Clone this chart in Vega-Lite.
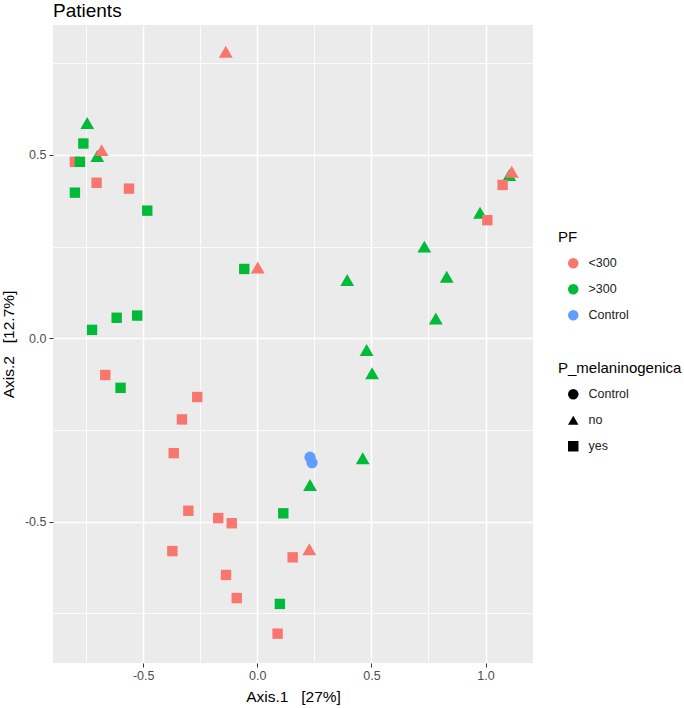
{
  "$schema": "https://vega.github.io/schema/vega-lite/v6.json",
  "autosize": {"type": "none"},
  "width": 480,
  "height": 638,
  "padding": {"left": 53, "top": 25, "right": 151, "bottom": 45},
  "background": "white",
  "title": {
    "text": "Patients",
    "anchor": "start",
    "frame": "group",
    "font": "Liberation Sans",
    "fontSize": 19,
    "fontWeight": "normal",
    "color": "#000000",
    "offset": 4
  },
  "data": {
    "values": [
      {"x": -0.745, "y": 0.587, "PF": ">300", "P_melaninogenica": "no"},
      {"x": -0.701, "y": 0.497, "PF": ">300", "P_melaninogenica": "no"},
      {"x": 1.104, "y": 0.445, "PF": ">300", "P_melaninogenica": "no"},
      {"x": 0.976, "y": 0.342, "PF": ">300", "P_melaninogenica": "no"},
      {"x": 0.732, "y": 0.250, "PF": ">300", "P_melaninogenica": "no"},
      {"x": 0.394, "y": 0.159, "PF": ">300", "P_melaninogenica": "no"},
      {"x": 0.830, "y": 0.168, "PF": ">300", "P_melaninogenica": "no"},
      {"x": 0.782, "y": 0.054, "PF": ">300", "P_melaninogenica": "no"},
      {"x": 0.479, "y": -0.032, "PF": ">300", "P_melaninogenica": "no"},
      {"x": 0.503, "y": -0.095, "PF": ">300", "P_melaninogenica": "no"},
      {"x": 0.462, "y": -0.327, "PF": ">300", "P_melaninogenica": "no"},
      {"x": 0.231, "y": -0.400, "PF": ">300", "P_melaninogenica": "no"},
      {"x": -0.762, "y": 0.531, "PF": ">300", "P_melaninogenica": "yes"},
      {"x": -0.799, "y": 0.397, "PF": ">300", "P_melaninogenica": "yes"},
      {"x": -0.482, "y": 0.348, "PF": ">300", "P_melaninogenica": "yes"},
      {"x": -0.057, "y": 0.189, "PF": ">300", "P_melaninogenica": "yes"},
      {"x": -0.616, "y": 0.056, "PF": ">300", "P_melaninogenica": "yes"},
      {"x": -0.526, "y": 0.062, "PF": ">300", "P_melaninogenica": "yes"},
      {"x": -0.724, "y": 0.023, "PF": ">300", "P_melaninogenica": "yes"},
      {"x": -0.599, "y": -0.135, "PF": ">300", "P_melaninogenica": "yes"},
      {"x": 0.114, "y": -0.477, "PF": ">300", "P_melaninogenica": "yes"},
      {"x": 0.099, "y": -0.724, "PF": ">300", "P_melaninogenica": "yes"},
      {"x": -0.138, "y": 0.781, "PF": "<300", "P_melaninogenica": "no"},
      {"x": -0.682, "y": 0.513, "PF": "<300", "P_melaninogenica": "no"},
      {"x": 1.115, "y": 0.454, "PF": "<300", "P_melaninogenica": "no"},
      {"x": 0.002, "y": 0.193, "PF": "<300", "P_melaninogenica": "no"},
      {"x": 0.228, "y": -0.575, "PF": "<300", "P_melaninogenica": "no"},
      {"x": -0.799, "y": 0.481, "PF": "<300", "P_melaninogenica": "yes"},
      {"x": -0.704, "y": 0.424, "PF": "<300", "P_melaninogenica": "yes"},
      {"x": -0.562, "y": 0.408, "PF": "<300", "P_melaninogenica": "yes"},
      {"x": 1.075, "y": 0.418, "PF": "<300", "P_melaninogenica": "yes"},
      {"x": 1.008, "y": 0.322, "PF": "<300", "P_melaninogenica": "yes"},
      {"x": -0.666, "y": -0.100, "PF": "<300", "P_melaninogenica": "yes"},
      {"x": -0.263, "y": -0.160, "PF": "<300", "P_melaninogenica": "yes"},
      {"x": -0.330, "y": -0.221, "PF": "<300", "P_melaninogenica": "yes"},
      {"x": -0.366, "y": -0.313, "PF": "<300", "P_melaninogenica": "yes"},
      {"x": -0.302, "y": -0.470, "PF": "<300", "P_melaninogenica": "yes"},
      {"x": -0.171, "y": -0.490, "PF": "<300", "P_melaninogenica": "yes"},
      {"x": -0.112, "y": -0.504, "PF": "<300", "P_melaninogenica": "yes"},
      {"x": -0.372, "y": -0.580, "PF": "<300", "P_melaninogenica": "yes"},
      {"x": 0.155, "y": -0.597, "PF": "<300", "P_melaninogenica": "yes"},
      {"x": -0.137, "y": -0.645, "PF": "<300", "P_melaninogenica": "yes"},
      {"x": -0.090, "y": -0.708, "PF": "<300", "P_melaninogenica": "yes"},
      {"x": 0.089, "y": -0.805, "PF": "<300", "P_melaninogenica": "yes"},
      {"x": -0.777, "y": 0.481, "PF": ">300", "P_melaninogenica": "yes"},
      {"x": 0.231, "y": -0.324, "PF": "Control", "P_melaninogenica": "Control"},
      {"x": 0.240, "y": -0.339, "PF": "Control", "P_melaninogenica": "Control"}
    ]
  },
  "mark": {"type": "point", "filled": true, "opacity": 1, "strokeWidth": 0},
  "encoding": {
    "x": {
      "field": "x",
      "type": "quantitative",
      "scale": {"domain": [-0.895, 1.208], "nice": false, "zero": false},
      "axis": {
        "title": "Axis.1\u00a0\u00a0\u00a0[27%]",
        "values": [-0.75, -0.5, -0.25, 0, 0.25, 0.5, 0.75, 1],
        "labelExpr": "datum.value * 2 % 1 !== 0 ? '' : replace(format(datum.value, '.1f'), '\u2212', '-')",
        "gridWidth": {"condition": {"test": "datum.value * 2 % 1 !== 0", "value": 0.8}, "value": 1.6},
        "tickOpacity": {"condition": {"test": "datum.value * 2 % 1 !== 0", "value": 0}, "value": 1},
        "labelPadding": 2,
        "titlePadding": 8
      }
    },
    "y": {
      "field": "y",
      "type": "quantitative",
      "scale": {"domain": [-0.885, 0.854], "nice": false, "zero": false},
      "axis": {
        "title": "Axis.2\u00a0\u00a0\u00a0[12.7%]",
        "values": [-0.75, -0.5, -0.25, 0, 0.25, 0.5, 0.75],
        "labelExpr": "datum.value * 2 % 1 !== 0 ? '' : replace(format(datum.value, '.1f'), '\u2212', '-')",
        "gridWidth": {"condition": {"test": "datum.value * 2 % 1 !== 0", "value": 0.8}, "value": 1.6},
        "tickOpacity": {"condition": {"test": "datum.value * 2 % 1 !== 0", "value": 0}, "value": 1},
        "labelPadding": 3,
        "titlePadding": 8
      }
    },
    "color": {
      "field": "PF",
      "type": "nominal",
      "scale": {"domain": ["<300", ">300", "Control"], "range": ["#F8766D", "#00BA38", "#619CFF"]},
      "legend": {
        "title": "PF",
        "orient": "none",
        "legendX": 505,
        "legendY": 205,
        "symbolType": "circle"
      }
    },
    "shape": {
      "field": "P_melaninogenica",
      "type": "nominal",
      "scale": {"domain": ["Control", "no", "yes"], "range": ["circle", "triangle-up", "square"]},
      "legend": {
        "title": "P_melaninogenica",
        "orient": "none",
        "legendX": 505,
        "legendY": 336,
        "symbolFillColor": "#000000",
        "symbolStrokeColor": "#000000"
      }
    },
    "size": {
      "condition": [
        {"test": "datum.P_melaninogenica === 'no'", "value": 190},
        {"test": "datum.P_melaninogenica === 'Control'", "value": 125}
      ],
      "value": 108
    }
  },
  "config": {
    "view": {"fill": "#EBEBEB", "stroke": null},
    "axis": {
      "domain": false,
      "gridColor": "#FFFFFF",
      "gridOpacity": 1,
      "tickColor": "#333333",
      "tickSize": 4,
      "tickWidth": 1,
      "labelFont": "Liberation Sans",
      "labelFontSize": 12.5,
      "labelColor": "#4D4D4D",
      "titleFont": "Liberation Sans",
      "titleFontSize": 15.5,
      "titleFontWeight": "normal",
      "titleColor": "#000000"
    },
    "legend": {
      "padding": 0,
      "titleFont": "Liberation Sans",
      "titleFontSize": 15,
      "titleFontWeight": "normal",
      "titleColor": "#000000",
      "titlePadding": 12,
      "labelFont": "Liberation Sans",
      "labelFontSize": 12.5,
      "labelColor": "#222222",
      "symbolSize": 110,
      "symbolStrokeWidth": 0,
      "symbolOffset": 9,
      "labelOffset": 9,
      "rowPadding": 13
    }
  }
}
